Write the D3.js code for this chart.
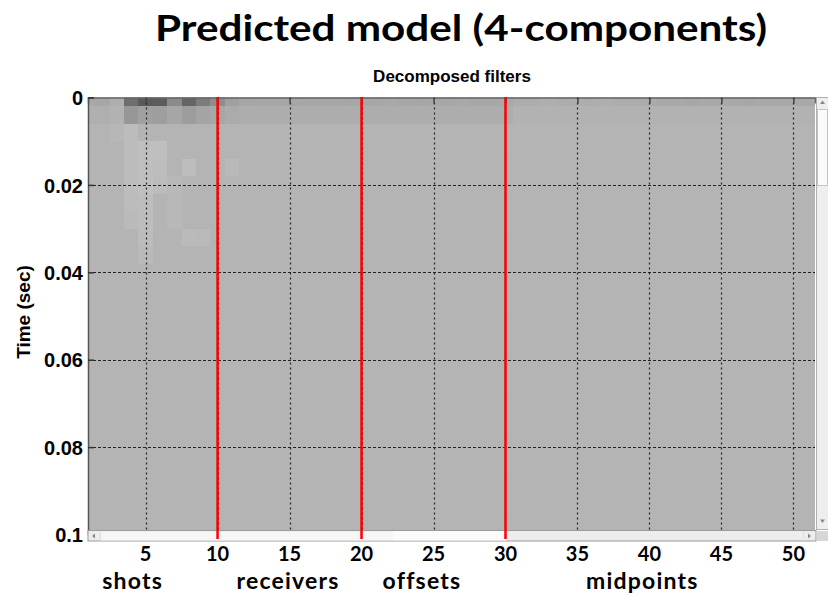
<!DOCTYPE html>
<html>
<head>
<meta charset="utf-8">
<script src="https://cdn.jsdelivr.net/npm/d3@7/dist/d3.min.js"></script>
<style>
  html, body { margin: 0; padding: 0; background: #fff; }
  svg { display: block; }
</style>
</head>
<body>
<svg id="chart" width="828" height="594"></svg>
<script>
// ---- data -------------------------------------------------------------
// Time samples (sec), one image row per sample
const timeSamples = [0, 0.004, 0.008, 0.012, 0.016, 0.020, 0.024, 0.028, 0.032, 0.036,
  0.040, 0.044, 0.048, 0.052, 0.056, 0.060, 0.064, 0.068, 0.072, 0.076,
  0.080, 0.084, 0.088, 0.092, 0.096, 0.100];

// Trace numbers across the decomposed filter panel
const traceCount = 51;

// Filter amplitude at t = 0, traces 1..51
const ampRow0 = [
  -0.06, -0.07, -0.03, -0.39, -0.50, -0.49, -0.23, -0.44, -0.31, -0.21,
  -0.11, -0.08, -0.07, -0.07, -0.08, -0.07, -0.07, -0.07, -0.08, -0.07,
  -0.07, -0.06, -0.07, -0.08, -0.07, -0.07, -0.06, -0.07, -0.07, -0.06,
  -0.04, -0.04, -0.03, -0.04, -0.04, -0.04, -0.03, -0.04, -0.04, -0.05,
  -0.06, -0.06, -0.07, -0.06, -0.06, -0.06, -0.07, -0.06, -0.06, -0.06, -0.06];

// Filter amplitude at t = 0.004, traces 1..51
const ampRow1 = [
  -0.02, -0.03, -0.01, -0.16, -0.11, -0.12, -0.08, -0.13, -0.09, -0.07,
  -0.05, -0.04, -0.04, -0.04, -0.04, -0.04, -0.04, -0.04, -0.04, -0.04,
  -0.04, -0.04, -0.04, -0.04, -0.04, -0.04, -0.04, -0.04, -0.04, -0.04,
  -0.01, -0.01, -0.01, -0.01, -0.01, -0.01, -0.01, -0.01, -0.01, -0.01,
  -0.01, -0.01, -0.01, -0.01, -0.01, -0.01, -0.01, -0.01, -0.01, -0.01, -0.01];

// Weaker positive energy later in time: [time index, trace, amplitude]
const lateCells = [
  [2, 3, 0.04], [2, 4, 0.11],
  [3, 4, 0.11], [3, 5, 0.14], [3, 6, 0.14],
  [4, 4, 0.11], [4, 5, 0.14], [4, 6, 0.12], [4, 8, 0.12], [4, 11, 0.06],
  [5, 4, 0.11], [5, 5, 0.14], [5, 6, 0.10], [5, 7, 0.05],
  [6, 4, 0.10], [6, 5, 0.12], [6, 7, 0.05],
  [7, 4, 0.08], [7, 5, 0.12], [7, 7, 0.05],
  [8, 5, 0.10], [8, 8, 0.08], [8, 9, 0.06],
  [9, 5, 0.06]
];

const xTicks = [5, 10, 15, 20, 25, 30, 35, 40, 45, 50];
const yTicks = [0, 0.02, 0.04, 0.06, 0.08, 0.1];
const yTickLabels = ["0", "0.02", "0.04", "0.06", "0.08", "0.1"];
const sectionBounds = [10, 20, 30];
const sectionNames = ["shots", "receivers", "offsets", "midpoints"];
const sectionCenters = [4.1, 14.9, 24.2, 39.5];

// ---- layout ------------------------------------------------------------
const svg = d3.select("#chart");
const plot = { left: 88, right: 815, top: 97.5, bottom: 534.5 };

const x = d3.scaleLinear().domain([1, 51.5]).range([plot.left, plot.right]);
const y = d3.scaleLinear().domain([0, 0.1]).range([plot.top, plot.bottom]);
const gray = d3.scaleLinear().domain([-1, 0, 1])
  .range(["#000000", "#b4b4b4", "#ffffff"]).clamp(true);

// Build the full amplitude grid
const cells = [];
timeSamples.forEach((t, i) => {
  for (let k = 1; k <= traceCount; k++) {
    let a = 0;
    if (i === 0) a = ampRow0[k - 1];
    else if (i === 1) a = ampRow1[k - 1];
    cells.push({ i, t, k, a });
  }
});
lateCells.forEach(([i, k, a]) => {
  const c = cells.find(d => d.i === i && d.k === k);
  if (c) c.a = a;
});

const dt = timeSamples[1] - timeSamples[0];

svg.append("defs").append("clipPath").attr("id", "plotClip")
  .append("rect")
  .attr("x", plot.left).attr("y", plot.top)
  .attr("width", plot.right - plot.left).attr("height", plot.bottom - plot.top);

// Image cells
svg.append("g").attr("clip-path", "url(#plotClip)")
  .selectAll("rect").data(cells).join("rect")
  .attr("x", d => x(d.k - 0.5))
  .attr("y", d => y(d.t - dt / 2))
  .attr("width", d => x(d.k + 0.5) - x(d.k - 0.5) + 0.3)
  .attr("height", d => y(d.t + dt / 2) - y(d.t - dt / 2) + 0.3)
  .attr("fill", d => gray(d.a))
  .attr("shape-rendering", "crispEdges");

// Dotted grid
const grid = svg.append("g").attr("stroke", "#222").attr("stroke-width", 1.2);
grid.selectAll("line.gx").data(xTicks).join("line").attr("class", "gx")
  .attr("x1", d => Math.round(x(d)) + 0.5).attr("x2", d => Math.round(x(d)) + 0.5)
  .attr("y1", plot.top).attr("y2", 531)
  .attr("stroke-dasharray", "2,3");
grid.selectAll("line.gy").data(yTicks.slice(1, -1)).join("line").attr("class", "gy")
  .attr("x1", plot.left).attr("x2", plot.right)
  .attr("y1", d => Math.round(y(d)) + 0.5).attr("y2", d => Math.round(y(d)) + 0.5)
  .attr("stroke-dasharray", "3,2");

// Axes frame with inward ticks
const topAxis = d3.axisTop(x).tickValues(xTicks).tickSize(-6).tickFormat("");
svg.append("g").attr("transform", `translate(0,${plot.top})`).call(topAxis)
  .call(g => g.select(".domain").attr("stroke", "#666").attr("stroke-width", 1.5))
  .call(g => g.selectAll(".tick line").attr("stroke", "#444").attr("stroke-width", 1.5));

const leftAxis = d3.axisLeft(y).tickValues(yTicks).tickSize(-6)
  .tickFormat((d, i) => yTickLabels[i]).tickPadding(5);
svg.append("g").attr("transform", `translate(${plot.left},0)`).call(leftAxis)
  .call(g => g.select(".domain").attr("stroke", "#555").attr("stroke-width", 1.5))
  .call(g => g.selectAll(".tick line").attr("stroke", "#333").attr("stroke-width", 1.5))
  .call(g => g.selectAll(".tick text")
    .attr("font-family", "'Liberation Sans', Arial, sans-serif")
    .attr("font-weight", "bold").attr("font-size", 20).attr("fill", "#000")
    .attr("dy", "0.36em"));

// Horizontal scrollbar
const hs = svg.append("g");
hs.append("rect").attr("x", plot.left).attr("y", 530.5).attr("width", 728).attr("height", 10.5)
  .attr("fill", "#ededed").attr("stroke", "#9a9a9a").attr("stroke-width", 1);
hs.append("rect").attr("x", 100).attr("y", 531.5).attr("width", 293).attr("height", 9)
  .attr("fill", "#f6f6f6");
hs.append("rect").attr("x", 393).attr("y", 531).attr("width", 113).attr("height", 9.5)
  .attr("fill", "#fbfbfb");
hs.append("path").attr("d", "M92,536 L95,533.5 L95,538.5 Z").attr("fill", "#888");
hs.append("path").attr("d", "M811,536 L808,533.5 L808,538.5 Z").attr("fill", "#888");
hs.append("line").attr("x1", 100.5).attr("x2", 100.5).attr("y1", 531).attr("y2", 541).attr("stroke", "#ddd");
hs.append("line").attr("x1", 803.5).attr("x2", 803.5).attr("y1", 531).attr("y2", 541).attr("stroke", "#ddd");
hs.append("rect").attr("x", 817).attr("y", 531).attr("width", 11).attr("height", 10)
  .attr("fill", "#d6d6d6");

// Vertical scrollbar
const vs = svg.append("g");
vs.append("rect").attr("x", 816.5).attr("y", 97.5).attr("width", 12).attr("height", 432)
  .attr("fill", "#eeeeee").attr("stroke", "#b0b0b0").attr("stroke-width", 1);
vs.append("rect").attr("x", 817.5).attr("y", 109.5).attr("width", 10).attr("height", 76)
  .attr("fill", "#fafafa").attr("stroke", "#c4c4c4");
vs.append("path").attr("d", "M822.5,100.5 L820,104 L825,104 Z").attr("fill", "#888");
vs.append("path").attr("d", "M822.5,523 L820,519.5 L825,519.5 Z").attr("fill", "#888");

// Section boundaries
svg.append("g").selectAll("line").data(sectionBounds).join("line")
  .attr("x1", d => x(d)).attr("x2", d => x(d))
  .attr("y1", plot.top - 0.5).attr("y2", 539)
  .attr("stroke", "#ff0000").attr("stroke-width", 2.5);

// Bottom tick labels
svg.append("g").selectAll("text").data(xTicks).join("text")
  .attr("x", d => x(d)).attr("y", 561)
  .attr("text-anchor", "middle")
  .attr("font-family", "Lato, 'Open Sans', sans-serif")
  .attr("font-weight", "bold").attr("font-size", 20)
  .text(d => d);

// Section names
svg.append("g").selectAll("text").data(sectionNames).join("text")
  .attr("x", (d, i) => x(sectionCenters[i])).attr("y", 589)
  .attr("text-anchor", "middle")
  .attr("font-family", "Lato, 'Open Sans', sans-serif")
  .attr("font-weight", "bold").attr("font-size", 23)
  .attr("letter-spacing", 1.2)
  .text(d => d);

// Y axis title
svg.append("text")
  .attr("transform", "translate(30,312) rotate(-90)")
  .attr("text-anchor", "middle")
  .attr("font-family", "'Liberation Sans', Arial, sans-serif")
  .attr("font-weight", "bold").attr("font-size", 19)
  .text("Time (sec)");

// Panel title
svg.append("text")
  .attr("x", 452).attr("y", 82)
  .attr("text-anchor", "middle")
  .attr("font-family", "'Liberation Sans', Arial, sans-serif")
  .attr("font-weight", "bold").attr("font-size", 17)
  .text("Decomposed filters");

// Figure title
svg.append("text")
  .attr("x", 461).attr("y", 41)
  .attr("text-anchor", "middle")
  .attr("font-family", "Lato, 'Open Sans', sans-serif")
  .attr("font-weight", "bold").attr("font-size", 36)
  .attr("textLength", 612).attr("lengthAdjust", "spacingAndGlyphs")
  .text("Predicted model (4-components)");
</script>
</body>
</html>
